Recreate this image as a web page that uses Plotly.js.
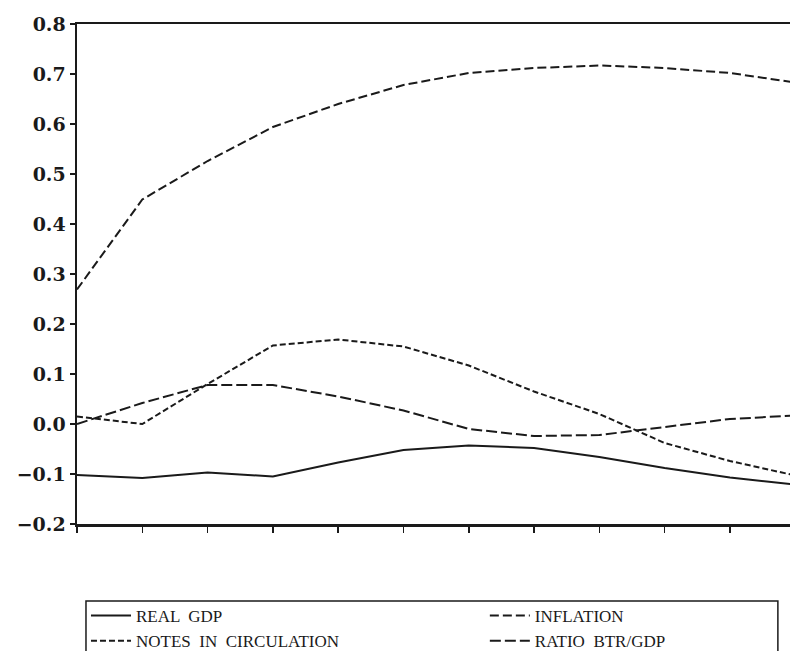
<!DOCTYPE html>
<html>
<head>
<meta charset="utf-8">
<script src="https://cdn.plot.ly/plotly-3.0.1.min.js"></script>
<style>html,body{margin:0;padding:0;background:#fff;}#chart{width:790px;height:651px;}</style>
</head>
<body>
<div id="chart"></div>
<script>
// Periods (0..11); the plot is cropped on the right, as in the reference
var periods = [0, 1, 2, 3, 4, 5, 6, 7, 8, 9, 10, 11];

var realGDP   = [-0.102, -0.108, -0.097, -0.105, -0.077, -0.052, -0.043, -0.048, -0.066, -0.088, -0.107, -0.121];
var inflation = [0.269, 0.449, 0.526, 0.594, 0.640, 0.678, 0.702, 0.712, 0.717, 0.712, 0.702, 0.683];
var notes     = [0.015, 0.000, 0.080, 0.157, 0.169, 0.155, 0.117, 0.065, 0.020, -0.038, -0.074, -0.103];
var ratioBTR  = [0.000, 0.042, 0.078, 0.078, 0.055, 0.027, -0.010, -0.024, -0.022, -0.006, 0.010, 0.017];

var seriesNames = ["REAL  GDP", "INFLATION", "NOTES  IN  CIRCULATION", "RATIO  BTR/GDP"];
var yTicks = [-0.2, -0.1, 0.0, 0.1, 0.2, 0.3, 0.4, 0.5, 0.6, 0.7, 0.8];
var yTickText = ["\u22120.2", "\u22120.1", "0.0", "0.1", "0.2", "0.3", "0.4", "0.5", "0.6", "0.7", "0.8"];

var ink = "#1a1a1a";
var traces = [
  {x: periods, y: realGDP, name: seriesNames[0], legend: "legend", mode: "lines", line: {color: ink, width: 2, dash: "solid"}},
  {x: periods, y: inflation, name: seriesNames[1], legend: "legend2", mode: "lines", line: {color: ink, width: 2, dash: "9px,4px"}},
  {x: periods, y: notes, name: seriesNames[2], legend: "legend", mode: "lines", line: {color: ink, width: 2, dash: "6px,3px"}},
  {x: periods, y: ratioBTR, name: seriesNames[3], legend: "legend2", mode: "lines", line: {color: ink, width: 2, dash: "11px,4px"}}
];

var legendFont = {family: "Liberation Serif, serif", size: 17, color: ink};
var layout = {
  width: 790, height: 651,
  margin: {l: 77, r: 0, t: 24, b: 127, autoexpand: false},
  paper_bgcolor: "#fff", plot_bgcolor: "#fff",
  showlegend: true,
  font: {family: "DejaVu Serif, serif", color: ink},
  xaxis: {
    range: [0, 10.92], tickvals: periods, showticklabels: false,
    ticks: "outside", ticklen: 6, tickwidth: 1.5, tickcolor: ink,
    showgrid: false, zeroline: false,
    showline: true, linecolor: ink, linewidth: 2.5, mirror: true
  },
  yaxis: {
    range: [-0.2, 0.8], tickvals: yTicks, ticktext: yTickText,
    ticks: "outside", ticklen: 5, tickwidth: 1.5, tickcolor: ink,
    tickfont: {family: "DejaVu Serif, serif", size: 19, weight: "bold", color: ink},
    showgrid: false, zeroline: false,
    showline: true, linecolor: ink, linewidth: 2.5, mirror: false
  },
  legend: {
    orientation: "v", x: 0.0126, xanchor: "left", y: -0.148, yanchor: "top",
    borderwidth: 0, bgcolor: "rgba(0,0,0,0)",
    font: legendFont, itemwidth: 40, tracegroupgap: 0
  },
  legend2: {
    orientation: "v", x: 0.572, xanchor: "left", y: -0.148, yanchor: "top",
    borderwidth: 0, bgcolor: "rgba(0,0,0,0)",
    font: legendFont, itemwidth: 40, tracegroupgap: 0
  },
  shapes: [
    {type: "rect", xref: "paper", yref: "paper", x0: 0.0126, x1: 0.983, y0: -0.154, y1: -0.30,
     line: {color: ink, width: 1.5}, fillcolor: "rgba(0,0,0,0)", layer: "below"}
  ]
};

Plotly.newPlot("chart", traces, layout, {staticPlot: true, displayModeBar: false});
</script>
</body>
</html>
